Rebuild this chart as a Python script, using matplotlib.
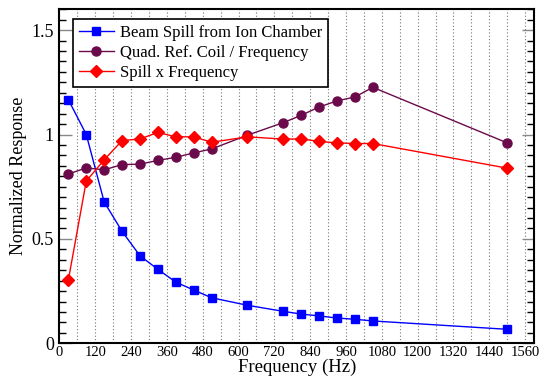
import matplotlib
matplotlib.use("Agg")
import matplotlib.pyplot as plt
from matplotlib.ticker import MultipleLocator, FixedLocator, FuncFormatter

freq = [30, 90, 150, 210, 270, 330, 390, 450, 510, 630, 750, 810, 870, 930, 990, 1050, 1500]
beam_spill = [1.167, 1.0, 0.677, 0.536, 0.419, 0.354, 0.293, 0.255, 0.218, 0.182, 0.153,
              0.140, 0.131, 0.121, 0.115, 0.107, 0.067]
quad_coil = [0.811, 0.840, 0.831, 0.856, 0.858, 0.876, 0.891, 0.912, 0.931, 0.997, 1.057,
             1.092, 1.132, 1.161, 1.180, 1.226, 0.960]
spill_x_freq = [0.303, 0.777, 0.879, 0.971, 0.979, 1.010, 0.989, 0.989, 0.963, 0.989, 0.978,
                0.979, 0.967, 0.960, 0.957, 0.957, 0.839]
labels = ["Beam Spill from Ion Chamber", "Quad. Ref. Coil / Frequency", "Spill x Frequency"]
x_ticks = list(range(0, 1561, 120))
y_ticks = [0, 0.5, 1, 1.5]

plt.rcParams['font.family'] = ['Liberation Serif', 'DejaVu Serif']
fig = plt.figure(figsize=(5.4, 3.8), dpi=100)
ax = fig.add_axes([0.110, 0.0966, 0.879, 0.879])

ax.plot(freq, beam_spill, color='#0000ff', marker='s', markersize=5.5, lw=1, label=labels[0])
ax.plot(freq, quad_coil, color='#6b0a4b', marker='o', markersize=6.5, lw=1, label=labels[1])
ax.plot(freq, spill_x_freq, color='#ff0000', marker='D', markersize=6, lw=1, label=labels[2])

ax.set_xlim(0, 1590)
ax.set_ylim(0, 1.6)
ax.xaxis.set_major_locator(FixedLocator(x_ticks))
ax.xaxis.set_minor_locator(MultipleLocator(60))
ax.yaxis.set_major_locator(FixedLocator(y_ticks))
ax.yaxis.set_minor_locator(MultipleLocator(0.05))
ax.yaxis.set_major_formatter(FuncFormatter(lambda v, p: f"{v:g}"))

ax.grid(True, axis='x', which='both', linestyle=(0, (1, 2)), color='#777777', lw=0.8)
ax.tick_params(axis='x', which='both', length=0, labelsize=10.5, pad=2)
ax.tick_params(axis='y', which='major', direction='in', length=9, width=1, color='#888888',
               right=True, labelsize=13, pad=4)
ax.tick_params(axis='y', which='minor', direction='in', length=5, width=1, color='black',
               right=True)
for s in ax.spines.values():
    s.set_linewidth(1.5)

ax.set_xlabel("Frequency (Hz)", fontsize=13.5, labelpad=0)
ax.set_ylabel("Normalized Response", fontsize=13, labelpad=3)

leg = ax.legend(loc='upper left', bbox_to_anchor=(0.028, 0.971), fontsize=12, fancybox=False,
                framealpha=1, edgecolor='black', borderpad=0.35, handlelength=2.1,
                handletextpad=0.4, labelspacing=0.25, borderaxespad=0)
leg.get_frame().set_linewidth(1.2)

fig.savefig("out.png", dpi=100)
